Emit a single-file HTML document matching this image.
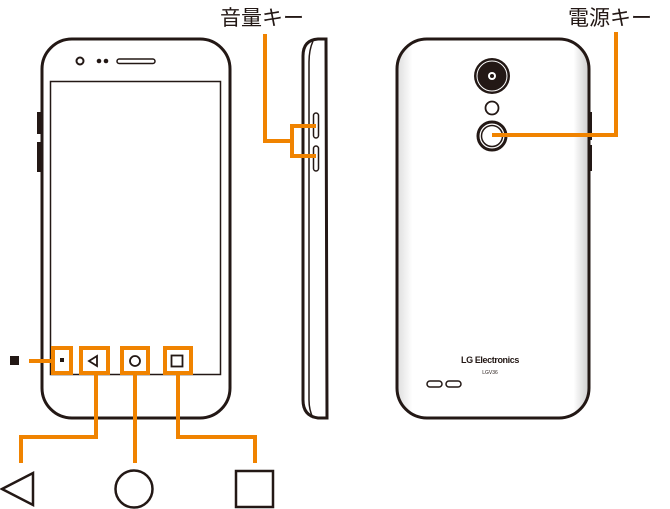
<!DOCTYPE html>
<html><head><meta charset="utf-8"><style>
html,body{margin:0;padding:0;background:#fff;}
svg{display:block;}
text{font-family:"Liberation Sans","Noto Sans CJK JP",sans-serif;}
</style></head><body>
<svg width="670" height="509" viewBox="0 0 670 509" xmlns="http://www.w3.org/2000/svg">
<defs>
<linearGradient id="g" x1="0" x2="1" y1="0" y2="0">
<stop offset="0" stop-color="#ddd"/><stop offset="0.08" stop-color="#fff"/><stop offset="0.92" stop-color="#fff"/><stop offset="1" stop-color="#ccc"/>
</linearGradient>
</defs>
<!-- front phone -->
<rect x="37" y="112" width="4" height="22" fill="#231815"/>
<rect x="37" y="142" width="4" height="30" fill="#231815"/>
<rect x="42" y="39" width="188" height="379" rx="30" fill="#fff" stroke="#231815" stroke-width="3"/>
<rect x="50.5" y="81.5" width="170" height="293" fill="none" stroke="#231815" stroke-width="1.5"/>
<circle cx="80" cy="61" r="3.5" fill="none" stroke="#231815" stroke-width="2"/>
<circle cx="99" cy="61" r="2.3" fill="#231815"/><circle cx="106" cy="61" r="2.3" fill="#231815"/>
<rect x="117" y="59" width="38" height="4.5" rx="2.2" fill="#fff" stroke="#231815" stroke-width="1.5"/>
<!-- nav icons in screen -->
<rect x="60" y="358" width="4" height="4" fill="#231815"/>
<polygon points="89,361 97,356 97,366" fill="none" stroke="#231815" stroke-width="1.8"/>
<circle cx="135" cy="361" r="5" fill="none" stroke="#231815" stroke-width="1.8"/>
<rect x="171.5" y="355.5" width="11" height="11" fill="none" stroke="#231815" stroke-width="1.8"/>
<!-- orange boxes -->
<g fill="none" stroke="#f08300" stroke-width="4">
<rect x="53" y="348" width="18" height="25"/>
<rect x="81" y="348" width="27" height="25"/>
<rect x="122" y="348" width="26" height="25"/>
<rect x="165" y="348" width="26" height="25"/>
<line x1="29" y1="361" x2="53" y2="361"/>
<polyline points="96,373 96,437 21,437 21,463"/>
<line x1="135" y1="373" x2="135" y2="463"/>
<polyline points="178,373 178,437 255,437 255,463"/>
</g>
<rect x="10" y="356" width="9" height="9" fill="#231815"/>
<polygon points="2,489 33,473 33,505" fill="none" stroke="#231815" stroke-width="2.5"/>
<circle cx="134" cy="489" r="18.5" fill="none" stroke="#231815" stroke-width="2.5"/>
<rect x="236" y="471" width="37" height="36" fill="none" stroke="#231815" stroke-width="2.5"/>
<!-- side phone -->
<path d="M303,56 Q303,40 318,39 L326,39 L327,418 L318,418 Q303,416 303,400 Z" fill="#fff" stroke="#231815" stroke-width="3"/>
<path d="M313,41 Q309,50 309,62 L309,400 Q309,410 313,418" fill="none" stroke="#231815" stroke-width="1.5"/>
<rect x="313.5" y="113" width="5" height="25" rx="2.5" fill="#fff" stroke="#231815" stroke-width="1.5"/>
<rect x="313.5" y="146" width="5" height="25" rx="2.5" fill="#fff" stroke="#231815" stroke-width="1.5"/>
<g fill="none" stroke="#f08300" stroke-width="4">
<polyline points="265,34 265,141 292,141"/>
<polyline points="316,126 292,126 292,156 316,156"/>
</g>
<text x="220" y="25" font-size="21" fill="#231815">音量キー</text>
<!-- back phone -->
<rect x="588" y="112" width="4" height="28" fill="#231815"/>
<rect x="588" y="145" width="4" height="26" fill="#231815"/>
<rect x="397" y="39" width="192" height="379" rx="30" fill="url(#g)" stroke="#231815" stroke-width="3"/>
<circle cx="492" cy="76" r="18" fill="#231815"/>
<circle cx="492" cy="76" r="15" fill="none" stroke="#fff" stroke-width="1"/>
<circle cx="492" cy="76" r="4" fill="#fff"/><circle cx="492" cy="76" r="2" fill="#231815"/>
<circle cx="492" cy="108" r="6.5" fill="#fff" stroke="#231815" stroke-width="1.8"/>
<circle cx="492" cy="136" r="14" fill="#fff" stroke="#231815" stroke-width="3"/>
<circle cx="492" cy="136" r="10.5" fill="none" stroke="#231815" stroke-width="1.5"/>
<polyline points="492,135 616,135 616,32" fill="none" stroke="#f08300" stroke-width="4"/>
<text x="568" y="25" font-size="21" fill="#231815">電源キー</text>
<text x="490" y="363" font-size="9" font-weight="bold" text-anchor="middle" fill="#231815" letter-spacing="-0.4">LG Electronics</text>
<text x="490" y="374" font-size="5" text-anchor="middle" fill="#231815">LGV36</text>
<rect x="427" y="381" width="15" height="6" rx="3" fill="none" stroke="#231815" stroke-width="1.5"/>
<rect x="446" y="381" width="15" height="6" rx="3" fill="none" stroke="#231815" stroke-width="1.5"/>
</svg>
</body></html>
